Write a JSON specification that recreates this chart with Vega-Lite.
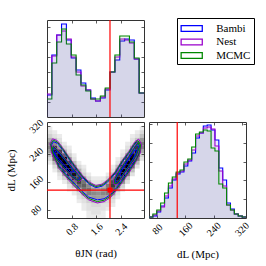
{
"$schema":"https://vega.github.io/schema/vega-lite/v6.json",
"padding":{"left":4,"top":17,"right":5,"bottom":5},
"background":"white",
"columns":2,
"spacing":5,
"bounds":"flush",
"datasets":{
"th":[
{"t":0,"Bambi":22,"Nest":23,"MCMC":18},
{"t":0.1571,"Bambi":62,"Nest":61,"MCMC":54},
{"t":0.3142,"Bambi":82,"Nest":82,"MCMC":75},
{"t":0.4712,"Bambi":93,"Nest":86,"MCMC":88},
{"t":0.6283,"Bambi":77,"Nest":78,"MCMC":73},
{"t":0.7854,"Bambi":59,"Nest":60,"MCMC":62},
{"t":0.9425,"Bambi":47,"Nest":45,"MCMC":42},
{"t":1.0996,"Bambi":34,"Nest":31,"MCMC":32},
{"t":1.2566,"Bambi":27,"Nest":27,"MCMC":26},
{"t":1.4137,"Bambi":19,"Nest":18,"MCMC":18},
{"t":1.5708,"Bambi":16,"Nest":16,"MCMC":18},
{"t":1.7279,"Bambi":19,"Nest":20,"MCMC":21},
{"t":1.885,"Bambi":27,"Nest":28,"MCMC":29},
{"t":2.042,"Bambi":45,"Nest":45,"MCMC":45},
{"t":2.1991,"Bambi":57,"Nest":60,"MCMC":62},
{"t":2.3562,"Bambi":76,"Nest":78,"MCMC":81},
{"t":2.5133,"Bambi":78,"Nest":77,"MCMC":81},
{"t":2.6704,"Bambi":77,"Nest":74,"MCMC":75},
{"t":2.8274,"Bambi":58,"Nest":58,"MCMC":59},
{"t":2.9845,"Bambi":24,"Nest":24,"MCMC":24},
{"t":3.1416,"Bambi":24,"Nest":24,"MCMC":24}
],
"dl":[
{"d":57,"Bambi":1,"Nest":1,"MCMC":1},
{"d":68,"Bambi":2,"Nest":3,"MCMC":4},
{"d":79,"Bambi":6,"Nest":7,"MCMC":8},
{"d":90,"Bambi":12,"Nest":11,"MCMC":15},
{"d":101,"Bambi":20,"Nest":22,"MCMC":25},
{"d":112,"Bambi":30,"Nest":32,"MCMC":35},
{"d":123,"Bambi":38,"Nest":39,"MCMC":41},
{"d":134,"Bambi":44,"Nest":45,"MCMC":46},
{"d":145,"Bambi":46,"Nest":47,"MCMC":48},
{"d":156,"Bambi":52,"Nest":54,"MCMC":56},
{"d":167,"Bambi":57,"Nest":58,"MCMC":59},
{"d":178,"Bambi":65,"Nest":68,"MCMC":71},
{"d":189,"Bambi":80,"Nest":82,"MCMC":84},
{"d":200,"Bambi":85,"Nest":85,"MCMC":86},
{"d":211,"Bambi":92,"Nest":90,"MCMC":88},
{"d":222,"Bambi":93,"Nest":91,"MCMC":87},
{"d":233,"Bambi":88,"Nest":89,"MCMC":70},
{"d":244,"Bambi":78,"Nest":72,"MCMC":67},
{"d":255,"Bambi":50,"Nest":47,"MCMC":34},
{"d":266,"Bambi":38,"Nest":32,"MCMC":30},
{"d":277,"Bambi":15,"Nest":13,"MCMC":13},
{"d":288,"Bambi":9,"Nest":8,"MCMC":8},
{"d":299,"Bambi":4,"Nest":4,"MCMC":4},
{"d":310,"Bambi":2,"Nest":2,"MCMC":2},
{"d":321,"Bambi":1,"Nest":1,"MCMC":1},
{"d":332,"Bambi":1,"Nest":1,"MCMC":1}
],
"inj":[{"t":2.04,"d":137}],
"heat":[
{"t":0.0785,"d":315.5,"v":1},{"t":0.0785,"d":304.5,"v":2},{"t":0.0785,"d":293.5,"v":4},{"t":0.0785,"d":282.5,"v":10},{"t":0.0785,"d":271.5,"v":18},{"t":0.0785,"d":260.5,"v":21},{"t":0.0785,"d":249.5,"v":15},{"t":0.0785,"d":238.5,"v":7},{"t":0.0785,"d":227.5,"v":3},{"t":0.0785,"d":216.5,"v":1},
{"t":0.2356,"d":304.5,"v":1},{"t":0.2356,"d":293.5,"v":2},{"t":0.2356,"d":282.5,"v":6},{"t":0.2356,"d":271.5,"v":18},{"t":0.2356,"d":260.5,"v":41},{"t":0.2356,"d":249.5,"v":58},{"t":0.2356,"d":238.5,"v":51},{"t":0.2356,"d":227.5,"v":28},{"t":0.2356,"d":216.5,"v":9},{"t":0.2356,"d":205.5,"v":3},{"t":0.2356,"d":194.5,"v":1},
{"t":0.3927,"d":293.5,"v":1},{"t":0.3927,"d":282.5,"v":2},{"t":0.3927,"d":271.5,"v":4},{"t":0.3927,"d":260.5,"v":15},{"t":0.3927,"d":249.5,"v":41},{"t":0.3927,"d":238.5,"v":72},{"t":0.3927,"d":227.5,"v":78},{"t":0.3927,"d":216.5,"v":53},{"t":0.3927,"d":205.5,"v":22},{"t":0.3927,"d":194.5,"v":6},{"t":0.3927,"d":183.5,"v":2},{"t":0.3927,"d":172.5,"v":1},
{"t":0.5498,"d":271.5,"v":1},{"t":0.5498,"d":260.5,"v":3},{"t":0.5498,"d":249.5,"v":9},{"t":0.5498,"d":238.5,"v":30},{"t":0.5498,"d":227.5,"v":66},{"t":0.5498,"d":216.5,"v":89},{"t":0.5498,"d":205.5,"v":75},{"t":0.5498,"d":194.5,"v":39},{"t":0.5498,"d":183.5,"v":13},{"t":0.5498,"d":172.5,"v":4},{"t":0.5498,"d":161.5,"v":1},
{"t":0.7069,"d":260.5,"v":1},{"t":0.7069,"d":249.5,"v":2},{"t":0.7069,"d":238.5,"v":5},{"t":0.7069,"d":227.5,"v":16},{"t":0.7069,"d":216.5,"v":42},{"t":0.7069,"d":205.5,"v":70},{"t":0.7069,"d":194.5,"v":73},{"t":0.7069,"d":183.5,"v":48},{"t":0.7069,"d":172.5,"v":19},{"t":0.7069,"d":161.5,"v":5},{"t":0.7069,"d":150.5,"v":2},{"t":0.7069,"d":139.5,"v":1},
{"t":0.8639,"d":238.5,"v":1},{"t":0.8639,"d":227.5,"v":2},{"t":0.8639,"d":216.5,"v":7},{"t":0.8639,"d":205.5,"v":22},{"t":0.8639,"d":194.5,"v":46},{"t":0.8639,"d":183.5,"v":60},{"t":0.8639,"d":172.5,"v":48},{"t":0.8639,"d":161.5,"v":24},{"t":0.8639,"d":150.5,"v":8},{"t":0.8639,"d":139.5,"v":2},{"t":0.8639,"d":128.5,"v":1},
{"t":1.021,"d":216.5,"v":1},{"t":1.021,"d":205.5,"v":3},{"t":1.021,"d":194.5,"v":9},{"t":1.021,"d":183.5,"v":25},{"t":1.021,"d":172.5,"v":41},{"t":1.021,"d":161.5,"v":43},{"t":1.021,"d":150.5,"v":28},{"t":1.021,"d":139.5,"v":11},{"t":1.021,"d":128.5,"v":3},{"t":1.021,"d":117.5,"v":2},{"t":1.021,"d":106.5,"v":1},
{"t":1.1781,"d":205.5,"v":1},{"t":1.1781,"d":194.5,"v":2},{"t":1.1781,"d":183.5,"v":4},{"t":1.1781,"d":172.5,"v":12},{"t":1.1781,"d":161.5,"v":25},{"t":1.1781,"d":150.5,"v":32},{"t":1.1781,"d":139.5,"v":26},{"t":1.1781,"d":128.5,"v":13},{"t":1.1781,"d":117.5,"v":4},{"t":1.1781,"d":106.5,"v":2},{"t":1.1781,"d":95.5,"v":1},{"t":1.1781,"d":84.5,"v":1},
{"t":1.3352,"d":183.5,"v":1},{"t":1.3352,"d":172.5,"v":3},{"t":1.3352,"d":161.5,"v":9},{"t":1.3352,"d":150.5,"v":19},{"t":1.3352,"d":139.5,"v":26},{"t":1.3352,"d":128.5,"v":22},{"t":1.3352,"d":117.5,"v":11},{"t":1.3352,"d":106.5,"v":4},{"t":1.3352,"d":95.5,"v":2},{"t":1.3352,"d":84.5,"v":2},{"t":1.3352,"d":73.5,"v":1},{"t":1.3352,"d":62.5,"v":1},
{"t":1.4923,"d":172.5,"v":1},{"t":1.4923,"d":161.5,"v":2},{"t":1.4923,"d":150.5,"v":8},{"t":1.4923,"d":139.5,"v":15},{"t":1.4923,"d":128.5,"v":19},{"t":1.4923,"d":117.5,"v":15},{"t":1.4923,"d":106.5,"v":7},{"t":1.4923,"d":95.5,"v":3},{"t":1.4923,"d":84.5,"v":2},{"t":1.4923,"d":73.5,"v":2},{"t":1.4923,"d":62.5,"v":1},
{"t":1.6493,"d":172.5,"v":1},{"t":1.6493,"d":161.5,"v":2},{"t":1.6493,"d":150.5,"v":6},{"t":1.6493,"d":139.5,"v":13},{"t":1.6493,"d":128.5,"v":17},{"t":1.6493,"d":117.5,"v":14},{"t":1.6493,"d":106.5,"v":7},{"t":1.6493,"d":95.5,"v":3},{"t":1.6493,"d":84.5,"v":2},{"t":1.6493,"d":73.5,"v":2},{"t":1.6493,"d":62.5,"v":1},
{"t":1.8064,"d":172.5,"v":1},{"t":1.8064,"d":161.5,"v":3},{"t":1.8064,"d":150.5,"v":10},{"t":1.8064,"d":139.5,"v":17},{"t":1.8064,"d":128.5,"v":20},{"t":1.8064,"d":117.5,"v":14},{"t":1.8064,"d":106.5,"v":6},{"t":1.8064,"d":95.5,"v":2},{"t":1.8064,"d":84.5,"v":2},{"t":1.8064,"d":73.5,"v":1},{"t":1.8064,"d":62.5,"v":1},
{"t":1.9635,"d":183.5,"v":1},{"t":1.9635,"d":172.5,"v":4},{"t":1.9635,"d":161.5,"v":11},{"t":1.9635,"d":150.5,"v":23},{"t":1.9635,"d":139.5,"v":28},{"t":1.9635,"d":128.5,"v":22},{"t":1.9635,"d":117.5,"v":10},{"t":1.9635,"d":106.5,"v":3},{"t":1.9635,"d":95.5,"v":2},{"t":1.9635,"d":84.5,"v":1},
{"t":2.1206,"d":205.5,"v":1},{"t":2.1206,"d":194.5,"v":2},{"t":2.1206,"d":183.5,"v":7},{"t":2.1206,"d":172.5,"v":22},{"t":2.1206,"d":161.5,"v":39},{"t":2.1206,"d":150.5,"v":45},{"t":2.1206,"d":139.5,"v":32},{"t":2.1206,"d":128.5,"v":14},{"t":2.1206,"d":117.5,"v":4},{"t":2.1206,"d":106.5,"v":2},{"t":2.1206,"d":95.5,"v":1},
{"t":2.2777,"d":227.5,"v":1},{"t":2.2777,"d":216.5,"v":2},{"t":2.2777,"d":205.5,"v":7},{"t":2.2777,"d":194.5,"v":22},{"t":2.2777,"d":183.5,"v":46},{"t":2.2777,"d":172.5,"v":60},{"t":2.2777,"d":161.5,"v":49},{"t":2.2777,"d":150.5,"v":25},{"t":2.2777,"d":139.5,"v":8},{"t":2.2777,"d":128.5,"v":2},{"t":2.2777,"d":117.5,"v":1},
{"t":2.4347,"d":249.5,"v":1},{"t":2.4347,"d":238.5,"v":2},{"t":2.4347,"d":227.5,"v":5},{"t":2.4347,"d":216.5,"v":20},{"t":2.4347,"d":205.5,"v":49},{"t":2.4347,"d":194.5,"v":75},{"t":2.4347,"d":183.5,"v":72},{"t":2.4347,"d":172.5,"v":43},{"t":2.4347,"d":161.5,"v":16},{"t":2.4347,"d":150.5,"v":4},{"t":2.4347,"d":139.5,"v":2},
{"t":2.5918,"d":271.5,"v":1},{"t":2.5918,"d":260.5,"v":2},{"t":2.5918,"d":249.5,"v":4},{"t":2.5918,"d":238.5,"v":14},{"t":2.5918,"d":227.5,"v":40},{"t":2.5918,"d":216.5,"v":71},{"t":2.5918,"d":205.5,"v":77},{"t":2.5918,"d":194.5,"v":52},{"t":2.5918,"d":183.5,"v":22},{"t":2.5918,"d":172.5,"v":6},{"t":2.5918,"d":161.5,"v":2},
{"t":2.7489,"d":293.5,"v":1},{"t":2.7489,"d":282.5,"v":2},{"t":2.7489,"d":271.5,"v":3},{"t":2.7489,"d":260.5,"v":11},{"t":2.7489,"d":249.5,"v":33},{"t":2.7489,"d":238.5,"v":63},{"t":2.7489,"d":227.5,"v":75},{"t":2.7489,"d":216.5,"v":55},{"t":2.7489,"d":205.5,"v":26},{"t":2.7489,"d":194.5,"v":7},{"t":2.7489,"d":183.5,"v":2},
{"t":2.906,"d":304.5,"v":1},{"t":2.906,"d":293.5,"v":2},{"t":2.906,"d":282.5,"v":6},{"t":2.906,"d":271.5,"v":22},{"t":2.906,"d":260.5,"v":45},{"t":2.906,"d":249.5,"v":59},{"t":2.906,"d":238.5,"v":48},{"t":2.906,"d":227.5,"v":24},{"t":2.906,"d":216.5,"v":8},{"t":2.906,"d":205.5,"v":2},
{"t":3.0631,"d":315.5,"v":1},{"t":3.0631,"d":304.5,"v":3},{"t":3.0631,"d":293.5,"v":7},{"t":3.0631,"d":282.5,"v":16},{"t":3.0631,"d":271.5,"v":24},{"t":3.0631,"d":260.5,"v":22},{"t":3.0631,"d":249.5,"v":12},{"t":3.0631,"d":238.5,"v":4},{"t":3.0631,"d":227.5,"v":2}
],
"cont":[
{"s":"Bambi","g":"o","i":0,"t":0.14,"d":265},{"s":"Bambi","g":"o","i":1,"t":0.21,"d":246},{"s":"Bambi","g":"o","i":2,"t":0.39,"d":207},{"s":"Bambi","g":"o","i":3,"t":0.6,"d":184},{"s":"Bambi","g":"o","i":4,"t":0.82,"d":162},{"s":"Bambi","g":"o","i":5,"t":1.14,"d":133},{"s":"Bambi","g":"o","i":6,"t":1.35,"d":117},{"s":"Bambi","g":"o","i":7,"t":1.63,"d":109},{"s":"Bambi","g":"o","i":8,"t":1.85,"d":112},{"s":"Bambi","g":"o","i":9,"t":2.06,"d":124},{"s":"Bambi","g":"o","i":10,"t":2.25,"d":144},{"s":"Bambi","g":"o","i":11,"t":2.44,"d":167},{"s":"Bambi","g":"o","i":12,"t":2.65,"d":194},{"s":"Bambi","g":"o","i":13,"t":2.87,"d":224},{"s":"Bambi","g":"o","i":14,"t":2.98,"d":246},{"s":"Bambi","g":"o","i":15,"t":3.0,"d":264},{"s":"Bambi","g":"o","i":16,"t":2.93,"d":275},{"s":"Bambi","g":"o","i":17,"t":2.85,"d":269},{"s":"Bambi","g":"o","i":18,"t":2.65,"d":242},{"s":"Bambi","g":"o","i":19,"t":2.44,"d":217},{"s":"Bambi","g":"o","i":20,"t":2.2,"d":183},{"s":"Bambi","g":"o","i":21,"t":1.95,"d":159},{"s":"Bambi","g":"o","i":22,"t":1.78,"d":148},{"s":"Bambi","g":"o","i":23,"t":1.58,"d":144},{"s":"Bambi","g":"o","i":24,"t":1.35,"d":155},{"s":"Bambi","g":"o","i":25,"t":1.14,"d":174},{"s":"Bambi","g":"o","i":26,"t":0.9,"d":202},{"s":"Bambi","g":"o","i":27,"t":0.71,"d":226},{"s":"Bambi","g":"o","i":28,"t":0.5,"d":253},{"s":"Bambi","g":"o","i":29,"t":0.33,"d":271},{"s":"Bambi","g":"o","i":30,"t":0.21,"d":276},{"s":"Bambi","g":"o","i":31,"t":0.14,"d":265},
{"s":"Bambi","g":"l","i":0,"t":0.22,"d":259},{"s":"Bambi","g":"l","i":1,"t":0.39,"d":244},{"s":"Bambi","g":"l","i":2,"t":0.6,"d":221},{"s":"Bambi","g":"l","i":3,"t":0.82,"d":198},{"s":"Bambi","g":"l","i":4,"t":0.98,"d":181},{"s":"Bambi","g":"l","i":5,"t":1.08,"d":171},{"s":"Bambi","g":"l","i":6,"t":0.99,"d":166},{"s":"Bambi","g":"l","i":7,"t":0.82,"d":177},{"s":"Bambi","g":"l","i":8,"t":0.6,"d":199},{"s":"Bambi","g":"l","i":9,"t":0.39,"d":220},{"s":"Bambi","g":"l","i":10,"t":0.26,"d":236},{"s":"Bambi","g":"l","i":11,"t":0.18,"d":250},{"s":"Bambi","g":"l","i":12,"t":0.22,"d":259},
{"s":"Bambi","g":"r","i":0,"t":2.21,"d":166},{"s":"Bambi","g":"r","i":1,"t":2.32,"d":185},{"s":"Bambi","g":"r","i":2,"t":2.44,"d":202},{"s":"Bambi","g":"r","i":3,"t":2.65,"d":230},{"s":"Bambi","g":"r","i":4,"t":2.84,"d":257},{"s":"Bambi","g":"r","i":5,"t":2.93,"d":268},{"s":"Bambi","g":"r","i":6,"t":2.97,"d":260},{"s":"Bambi","g":"r","i":7,"t":2.86,"d":235},{"s":"Bambi","g":"r","i":8,"t":2.65,"d":207},{"s":"Bambi","g":"r","i":9,"t":2.44,"d":180},{"s":"Bambi","g":"r","i":10,"t":2.31,"d":162},{"s":"Bambi","g":"r","i":11,"t":2.23,"d":158},{"s":"Bambi","g":"r","i":12,"t":2.21,"d":166},
{"s":"Bambi","g":"il","i":0,"t":0.3,"d":250},{"s":"Bambi","g":"il","i":1,"t":0.5,"d":232},{"s":"Bambi","g":"il","i":2,"t":0.75,"d":205},{"s":"Bambi","g":"il","i":3,"t":0.88,"d":190},{"s":"Bambi","g":"il","i":4,"t":0.78,"d":188},{"s":"Bambi","g":"il","i":5,"t":0.5,"d":215},{"s":"Bambi","g":"il","i":6,"t":0.3,"d":236},{"s":"Bambi","g":"il","i":7,"t":0.25,"d":245},{"s":"Bambi","g":"il","i":8,"t":0.3,"d":250},
{"s":"Bambi","g":"ir","i":0,"t":2.35,"d":183},{"s":"Bambi","g":"ir","i":1,"t":2.5,"d":204},{"s":"Bambi","g":"ir","i":2,"t":2.7,"d":232},{"s":"Bambi","g":"ir","i":3,"t":2.86,"d":253},{"s":"Bambi","g":"ir","i":4,"t":2.91,"d":247},{"s":"Bambi","g":"ir","i":5,"t":2.76,"d":222},{"s":"Bambi","g":"ir","i":6,"t":2.56,"d":193},{"s":"Bambi","g":"ir","i":7,"t":2.42,"d":175},{"s":"Bambi","g":"ir","i":8,"t":2.35,"d":183},
{"s":"Nest","g":"o","i":0,"t":0.1,"d":270},{"s":"Nest","g":"o","i":1,"t":0.15,"d":243},{"s":"Nest","g":"o","i":2,"t":0.39,"d":199},{"s":"Nest","g":"o","i":3,"t":0.6,"d":176},{"s":"Nest","g":"o","i":4,"t":0.82,"d":154},{"s":"Nest","g":"o","i":5,"t":1.14,"d":125},{"s":"Nest","g":"o","i":6,"t":1.35,"d":109},{"s":"Nest","g":"o","i":7,"t":1.63,"d":100},{"s":"Nest","g":"o","i":8,"t":1.85,"d":104},{"s":"Nest","g":"o","i":9,"t":2.06,"d":116},{"s":"Nest","g":"o","i":10,"t":2.25,"d":136},{"s":"Nest","g":"o","i":11,"t":2.44,"d":159},{"s":"Nest","g":"o","i":12,"t":2.65,"d":186},{"s":"Nest","g":"o","i":13,"t":2.87,"d":216},{"s":"Nest","g":"o","i":14,"t":3.02,"d":243},{"s":"Nest","g":"o","i":15,"t":3.06,"d":268},{"s":"Nest","g":"o","i":16,"t":2.97,"d":283},{"s":"Nest","g":"o","i":17,"t":2.85,"d":276},{"s":"Nest","g":"o","i":18,"t":2.65,"d":248},{"s":"Nest","g":"o","i":19,"t":2.44,"d":223},{"s":"Nest","g":"o","i":20,"t":2.2,"d":189},{"s":"Nest","g":"o","i":21,"t":1.95,"d":165},{"s":"Nest","g":"o","i":22,"t":1.78,"d":154},{"s":"Nest","g":"o","i":23,"t":1.58,"d":150},{"s":"Nest","g":"o","i":24,"t":1.35,"d":161},{"s":"Nest","g":"o","i":25,"t":1.14,"d":180},{"s":"Nest","g":"o","i":26,"t":0.9,"d":208},{"s":"Nest","g":"o","i":27,"t":0.71,"d":232},{"s":"Nest","g":"o","i":28,"t":0.5,"d":259},{"s":"Nest","g":"o","i":29,"t":0.33,"d":279},{"s":"Nest","g":"o","i":30,"t":0.18,"d":284},{"s":"Nest","g":"o","i":31,"t":0.1,"d":270},
{"s":"Nest","g":"l","i":0,"t":0.19,"d":265},{"s":"Nest","g":"l","i":1,"t":0.39,"d":250},{"s":"Nest","g":"l","i":2,"t":0.6,"d":227},{"s":"Nest","g":"l","i":3,"t":0.82,"d":204},{"s":"Nest","g":"l","i":4,"t":1.02,"d":184},{"s":"Nest","g":"l","i":5,"t":1.15,"d":170},{"s":"Nest","g":"l","i":6,"t":1.04,"d":160},{"s":"Nest","g":"l","i":7,"t":0.82,"d":171},{"s":"Nest","g":"l","i":8,"t":0.6,"d":193},{"s":"Nest","g":"l","i":9,"t":0.39,"d":214},{"s":"Nest","g":"l","i":10,"t":0.22,"d":232},{"s":"Nest","g":"l","i":11,"t":0.14,"d":250},{"s":"Nest","g":"l","i":12,"t":0.19,"d":265},
{"s":"Nest","g":"r","i":0,"t":2.15,"d":166},{"s":"Nest","g":"r","i":1,"t":2.28,"d":188},{"s":"Nest","g":"r","i":2,"t":2.44,"d":208},{"s":"Nest","g":"r","i":3,"t":2.65,"d":236},{"s":"Nest","g":"r","i":4,"t":2.85,"d":264},{"s":"Nest","g":"r","i":5,"t":2.96,"d":277},{"s":"Nest","g":"r","i":6,"t":3.03,"d":263},{"s":"Nest","g":"r","i":7,"t":2.9,"d":232},{"s":"Nest","g":"r","i":8,"t":2.65,"d":201},{"s":"Nest","g":"r","i":9,"t":2.44,"d":174},{"s":"Nest","g":"r","i":10,"t":2.3,"d":155},{"s":"Nest","g":"r","i":11,"t":2.18,"d":152},{"s":"Nest","g":"r","i":12,"t":2.15,"d":166},
{"s":"MCMC","g":"o","i":0,"t":0.12,"d":268},{"s":"MCMC","g":"o","i":1,"t":0.18,"d":245},{"s":"MCMC","g":"o","i":2,"t":0.39,"d":203},{"s":"MCMC","g":"o","i":3,"t":0.6,"d":180},{"s":"MCMC","g":"o","i":4,"t":0.82,"d":158},{"s":"MCMC","g":"o","i":5,"t":1.14,"d":129},{"s":"MCMC","g":"o","i":6,"t":1.35,"d":113},{"s":"MCMC","g":"o","i":7,"t":1.63,"d":104},{"s":"MCMC","g":"o","i":8,"t":1.85,"d":108},{"s":"MCMC","g":"o","i":9,"t":2.06,"d":120},{"s":"MCMC","g":"o","i":10,"t":2.25,"d":140},{"s":"MCMC","g":"o","i":11,"t":2.44,"d":163},{"s":"MCMC","g":"o","i":12,"t":2.65,"d":190},{"s":"MCMC","g":"o","i":13,"t":2.87,"d":220},{"s":"MCMC","g":"o","i":14,"t":3.0,"d":245},{"s":"MCMC","g":"o","i":15,"t":3.03,"d":266},{"s":"MCMC","g":"o","i":16,"t":2.95,"d":279},{"s":"MCMC","g":"o","i":17,"t":2.85,"d":272},{"s":"MCMC","g":"o","i":18,"t":2.65,"d":245},{"s":"MCMC","g":"o","i":19,"t":2.44,"d":220},{"s":"MCMC","g":"o","i":20,"t":2.2,"d":186},{"s":"MCMC","g":"o","i":21,"t":1.95,"d":162},{"s":"MCMC","g":"o","i":22,"t":1.78,"d":151},{"s":"MCMC","g":"o","i":23,"t":1.58,"d":147},{"s":"MCMC","g":"o","i":24,"t":1.35,"d":158},{"s":"MCMC","g":"o","i":25,"t":1.14,"d":177},{"s":"MCMC","g":"o","i":26,"t":0.9,"d":205},{"s":"MCMC","g":"o","i":27,"t":0.71,"d":229},{"s":"MCMC","g":"o","i":28,"t":0.5,"d":256},{"s":"MCMC","g":"o","i":29,"t":0.33,"d":275},{"s":"MCMC","g":"o","i":30,"t":0.2,"d":280},{"s":"MCMC","g":"o","i":31,"t":0.12,"d":268},
{"s":"MCMC","g":"l","i":0,"t":0.2,"d":262},{"s":"MCMC","g":"l","i":1,"t":0.39,"d":247},{"s":"MCMC","g":"l","i":2,"t":0.6,"d":224},{"s":"MCMC","g":"l","i":3,"t":0.82,"d":201},{"s":"MCMC","g":"l","i":4,"t":1.0,"d":182},{"s":"MCMC","g":"l","i":5,"t":1.12,"d":170},{"s":"MCMC","g":"l","i":6,"t":1.02,"d":163},{"s":"MCMC","g":"l","i":7,"t":0.82,"d":174},{"s":"MCMC","g":"l","i":8,"t":0.6,"d":196},{"s":"MCMC","g":"l","i":9,"t":0.39,"d":217},{"s":"MCMC","g":"l","i":10,"t":0.24,"d":234},{"s":"MCMC","g":"l","i":11,"t":0.16,"d":250},{"s":"MCMC","g":"l","i":12,"t":0.2,"d":262},
{"s":"MCMC","g":"r","i":0,"t":2.18,"d":166},{"s":"MCMC","g":"r","i":1,"t":2.3,"d":186},{"s":"MCMC","g":"r","i":2,"t":2.44,"d":205},{"s":"MCMC","g":"r","i":3,"t":2.65,"d":233},{"s":"MCMC","g":"r","i":4,"t":2.85,"d":261},{"s":"MCMC","g":"r","i":5,"t":2.95,"d":273},{"s":"MCMC","g":"r","i":6,"t":3.0,"d":262},{"s":"MCMC","g":"r","i":7,"t":2.88,"d":234},{"s":"MCMC","g":"r","i":8,"t":2.65,"d":204},{"s":"MCMC","g":"r","i":9,"t":2.44,"d":177},{"s":"MCMC","g":"r","i":10,"t":2.3,"d":158},{"s":"MCMC","g":"r","i":11,"t":2.2,"d":155},{"s":"MCMC","g":"r","i":12,"t":2.18,"d":166}
]
},
"concat":[
{
"width":97,"height":97,
"layer":[
{"data":{"name":"th"},"transform":[{"fold":["Bambi","Nest","MCMC"]}],
"mark":{"type":"line","interpolate":"step-after","strokeWidth":1.1},
"encoding":{
"x":{"field":"t","type":"quantitative","scale":{"domain":[0,3.14159],"nice":false,"zero":false},"axis":{"values":[0.8,1.6,2.4],"labels":false,"title":null}},
"y":{"field":"value","type":"quantitative","scale":{"domain":[0,97],"nice":false},"axis":{"values":[15,30,45,60,75,90],"labels":false,"title":null}},
"color":{"field":"key","type":"nominal","scale":{"domain":["Bambi","Nest","MCMC"],"range":["#0000ff","#9900cc","#008800"]},
"legend":{"orient":"none","legendX":130,"legendY":-2,"title":null,"symbolType":"M-1.6,-0.5H1.6V0.5H-1.6Z M-1.42,-0.32V0.32H1.42V-0.32Z","symbolSize":196,"symbolStrokeWidth":0,"symbolOffset":4.2,"labelFontSize":11,"labelOffset":17.5,"padding":3.5,"rowPadding":1.5,"strokeColor":"#000","fillColor":"#fff","labelFont":"Liberation Serif","labelColor":"#000"}}
}},
{"data":{"name":"th"},"transform":[{"fold":["Bambi","Nest","MCMC"]}],
"mark":{"type":"area","interpolate":"step-after","fillOpacity":0.07},
"encoding":{
"x":{"field":"t","type":"quantitative","axis":null},
"y":{"field":"value","type":"quantitative","stack":null,"axis":{"orient":"right","values":[15,30,45,60,75,90],"labels":false,"title":null}},
"fill":{"field":"key","type":"nominal","scale":{"domain":["Bambi","Nest","MCMC"],"range":["#0000ff","#9900cc","#008800"]},"legend":null}
}},
{"data":{"name":"inj"},"mark":{"type":"rule","color":"#ff0000","strokeWidth":1.2},
"encoding":{"x":{"field":"t","type":"quantitative","axis":{"orient":"top","values":[0.8,1.6,2.4],"labels":false,"title":null}}}}
],
"resolve":{"axis":{"x":"independent","y":"independent"}}
},
{"width":97,"height":97,"data":{"values":[{}]},"mark":{"type":"point","opacity":0},"encoding":{},"view":{"stroke":null}},
{
"width":97,"height":96,
"layer":[
{"data":{"name":"heat"},"mark":{"type":"rect","strokeWidth":0,"fill":"#000000"},
"encoding":{
"x":{"field":"t","type":"quantitative","bin":{"extent":[0,3.14159],"step":0.15708,"nice":false},"scale":{"domain":[0,3.14159],"nice":false,"zero":false},"axis":{"values":[0.8,1.6,2.4],"format":".1f","title":"θJN (rad)","labelAngle":-45,"titlePadding":11}},
"y":{"field":"d","type":"quantitative","bin":{"extent":[57,332],"step":11,"nice":false},"scale":{"domain":[57,332],"nice":false,"zero":false},"axis":{"values":[80,160,240,320],"format":"d","title":"dL (Mpc)","labelAngle":-45,"titlePadding":11}},
"opacity":{"field":"v","type":"quantitative","scale":{"type":"pow","exponent":0.6,"domain":[0,70],"range":[0,1],"clamp":true},"legend":null}
}},
{"data":{"name":"cont"},"mark":{"type":"line","strokeWidth":1},
"encoding":{
"x":{"field":"t","type":"quantitative","axis":null},
"y":{"field":"d","type":"quantitative","axis":null},
"color":{"field":"s","type":"nominal","scale":{"domain":["Bambi","Nest","MCMC"],"range":["#0000ff","#9900cc","#008800"]},"legend":null},
"detail":{"field":"g"},
"order":{"field":"i","type":"quantitative"}
}},
{"data":{"name":"inj"},"mark":{"type":"rule","color":"#ff0000","strokeWidth":1.2},
"encoding":{"x":{"field":"t","type":"quantitative","axis":{"orient":"top","values":[0.8,1.6,2.4],"labels":false,"title":null}}}},
{"data":{"name":"inj"},"mark":{"type":"rule","color":"#ff0000","strokeWidth":1.2},
"encoding":{"y":{"field":"d","type":"quantitative","axis":{"orient":"right","values":[80,160,240,320],"labels":false,"title":null}}}},
{"data":{"name":"inj"},"mark":{"type":"square","color":"#ff0000","filled":true,"opacity":1,"size":25},
"encoding":{"x":{"field":"t","type":"quantitative","axis":null},"y":{"field":"d","type":"quantitative","axis":null}}}
],
"resolve":{"axis":{"x":"independent","y":"independent"}}
},
{
"width":97,"height":96,
"layer":[
{"data":{"name":"dl"},"transform":[{"fold":["Bambi","Nest","MCMC"]}],
"mark":{"type":"area","interpolate":"step-after","fillOpacity":0.07},
"encoding":{
"x":{"field":"d","type":"quantitative","scale":{"domain":[57,332],"nice":false,"zero":false},"axis":{"values":[80,160,240,320],"format":"d","title":"dL (Mpc)","labelAngle":-45,"titlePadding":11}},
"y":{"field":"value","type":"quantitative","stack":null,"scale":{"domain":[0,96],"nice":false},"axis":{"values":[18.8,37.6,56.4,75.2,94],"labels":false,"title":null}},
"fill":{"field":"key","type":"nominal","scale":{"domain":["Bambi","Nest","MCMC"],"range":["#0000ff","#9900cc","#008800"]},"legend":null}
}},
{"data":{"name":"dl"},"transform":[{"fold":["Bambi","Nest","MCMC"]}],
"mark":{"type":"line","interpolate":"step-after","strokeWidth":1.1},
"encoding":{
"x":{"field":"d","type":"quantitative","axis":null},
"y":{"field":"value","type":"quantitative","axis":{"orient":"right","values":[18.8,37.6,56.4,75.2,94],"labels":false,"title":null}},
"color":{"field":"key","type":"nominal","scale":{"domain":["Bambi","Nest","MCMC"],"range":["#0000ff","#9900cc","#008800"]},"legend":null}
}},
{"data":{"name":"inj"},"mark":{"type":"rule","color":"#ff0000","strokeWidth":1.2},
"encoding":{"x":{"field":"d","type":"quantitative","axis":{"orient":"top","values":[80,160,240,320],"labels":false,"title":null}}}}
],
"resolve":{"axis":{"x":"independent","y":"independent"}}
}
],
"config":{
"font":"Liberation Serif",
"view":{"stroke":"#333","strokeWidth":1},
"axis":{"domain":false,"grid":false,"tickSize":-3,"tickColor":"#333","tickWidth":0.8,"labelFontSize":10,"labelColor":"#000","titleFontSize":11,"titleFontWeight":"normal","titleColor":"#000","labelPadding":14,"labelAlign":"center","labelBaseline":"middle","labelFont":"Liberation Serif","titleFont":"Liberation Serif"}
}
}
